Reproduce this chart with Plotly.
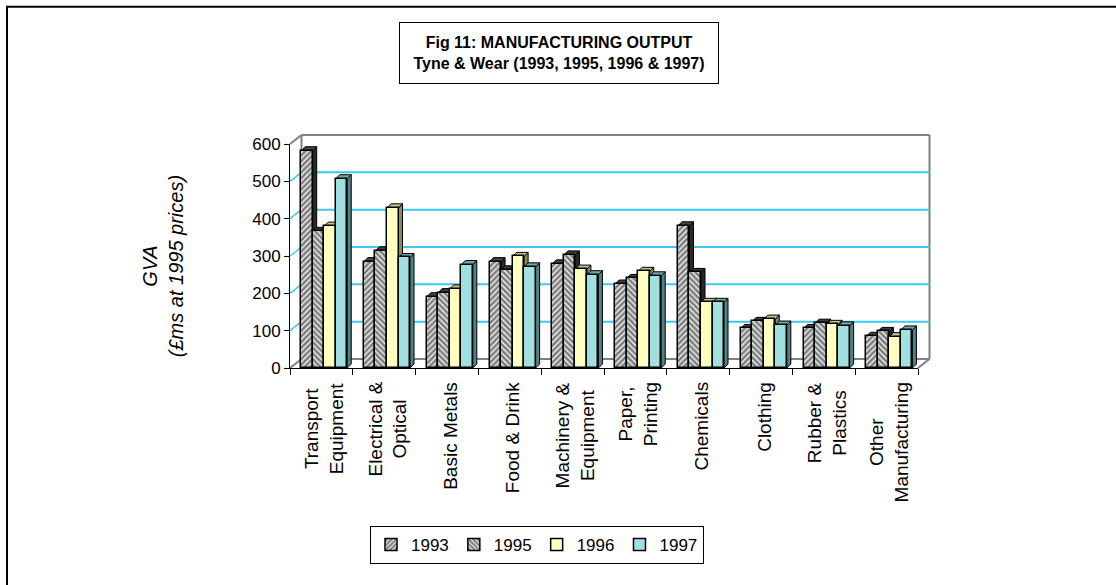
import plotly.graph_objects as go

# ---------------- data ----------------
categories = ["Transport<br>Equipment", "Electrical &<br>Optical", "Basic Metals",
              "Food & Drink", "Machinery &<br>Equipment", "Paper,<br>Printing",
              "Chemicals", "Clothing", "Rubber &<br>Plastics", "Other<br>Manufacturing"]
years = ["1993", "1995", "1996", "1997"]
gva_1993 = [582, 285, 191, 285, 279, 225, 381, 106, 106, 85]
gva_1995 = [366, 314, 202, 263, 303, 240, 256, 125, 120, 98]
gva_1996 = [380, 429, 212, 299, 265, 259, 176, 131, 117, 84]
gva_1997 = [507, 296, 277, 271, 250, 247, 176, 115, 113, 102]
y_ticks = [0, 100, 200, 300, 400, 500, 600]
series = [gva_1993, gva_1995, gva_1996, gva_1997]

# ---------------- styles ----------------
FONT = "Liberation Sans, Arial, sans-serif"
front_colors = ["white", "white", "#ffffc0", "#a0e0e0"]
top_colors = ["#444444", "#3a3a3a", "#c8c088", "#6fa9a9"]
side_colors = ["#2a2a2a", "#262626", "#8a8660", "#4f8282"]
patterns = [dict(shape="/", fgcolor="black", bgcolor="white", size=4, solidity=0.7),
            dict(shape="\\", fgcolor="black", bgcolor="white", size=4, solidity=0.7),
            None, None]

W, H = 1116, 585
L, PW = 290, 628
T, PH = 143.5, 224.5
B = H - T - PH
R = W - L - PW
XMIN, XMAX = -0.5, len(categories) - 0.5
YMIN, YMAX = 0, 600
PPX = PW / (XMAX - XMIN)
PPY = PH / (YMAX - YMIN)

BAR_W = 0.1833
GROUP_OFF = -0.322
DDX = 4 / PPX          # bar depth in data units
DDY = 4 / PPY
WDX = 11.5 / PW        # wall depth in paper units
WDY = 9 / PH


def paper_x(px):
    return (px - L) / PW


def paper_y(py):
    return (T + PH - py) / PH


fig = go.Figure()

for j, (yr, vals) in enumerate(zip(years, series)):
    marker = dict(color=front_colors[j], line=dict(color="black", width=1.5))
    if patterns[j]:
        marker["pattern"] = patterns[j]
    fig.add_trace(go.Bar(
        x=list(range(len(categories))), y=vals, name=yr,
        offset=GROUP_OFF + j * BAR_W, width=BAR_W,
        marker=marker, hoverinfo="y+name"))

shapes = []
GRAY = "#808080"
wall = [((0 + WDX, 0 + WDY), (0 + WDX, 1 + WDY)),
        ((0, 1), (0 + WDX, 1 + WDY)),
        ((0 + WDX, 1 + WDY), (1 + WDX, 1 + WDY)),
        ((1 + WDX, 1 + WDY), (1 + WDX, 0 + WDY)),
        ((0 + WDX, 0 + WDY), (1 + WDX, 0 + WDY)),
        ((0, 0), (0 + WDX, 0 + WDY)),
        ((1, 0), (1 + WDX, 0 + WDY))]
for (x0, y0), (x1, y1) in wall:
    shapes.append(dict(type="line", xref="paper", yref="paper", x0=x0, y0=y0, x1=x1, y1=y1,
                       line=dict(color=GRAY, width=2), layer="below"))
GRID = "#3cc8f0"
for v in y_ticks[1:-1]:
    yv = (v - YMIN) / (YMAX - YMIN)
    shapes.append(dict(type="line", xref="paper", yref="paper", x0=WDX, x1=1 + WDX,
                       y0=yv + WDY, y1=yv + WDY, line=dict(color=GRID, width=2), layer="below"))
    shapes.append(dict(type="line", xref="paper", yref="paper", x0=0, x1=WDX,
                       y0=yv, y1=yv + WDY, line=dict(color=GRID, width=1.5), layer="below"))

# 3D side and top faces of bars
for k in range(len(categories)):
    for j, vals in enumerate(series):
        v = vals[k]
        xl = k + GROUP_OFF + j * BAR_W
        xr = xl + BAR_W
        side = f"M{xr},0 L{xr},{v} L{xr + DDX},{v + DDY} L{xr + DDX},{DDY} Z"
        top = f"M{xl},{v} L{xr},{v} L{xr + DDX},{v + DDY} L{xl + DDX},{v + DDY} Z"
        shapes.append(dict(type="path", xref="x", yref="y", path=side, fillcolor=side_colors[j],
                           line=dict(color="black", width=1), layer="below"))
        shapes.append(dict(type="path", xref="x", yref="y", path=top, fillcolor=top_colors[j],
                           line=dict(color="black", width=1), layer="below"))

# outer frame (left and top edges)
shapes.append(dict(type="line", xref="paper", yref="paper", x0=paper_x(6), x1=paper_x(W + 5),
                   y0=paper_y(6), y1=paper_y(6), line=dict(color="black", width=2)))
shapes.append(dict(type="line", xref="paper", yref="paper", x0=paper_x(7), x1=paper_x(7),
                   y0=paper_y(6), y1=paper_y(H + 5), line=dict(color="black", width=2)))

annotations = []
# category labels
for k, c in enumerate(categories):
    annotations.append(dict(x=k + 0.045, xref="x", y=0, yref="paper", yshift=-12,
                            text=c, textangle=-90, showarrow=False, align="center",
                            xanchor="center", yanchor="top",
                            font=dict(family=FONT, size=19, color="black")))
# y title
annotations.append(dict(x=paper_x(163), y=paper_y(266), xref="paper", yref="paper",
                        text="<i>GVA<br>(£ms at 1995 prices)</i>", textangle=-90,
                        showarrow=False, align="center", xanchor="center", yanchor="middle",
                        font=dict(family=FONT, size=20, color="black")))
# title box
annotations.append(dict(x=paper_x(559), y=paper_y(52), xref="paper", yref="paper",
                        text="<b>Fig 11: MANUFACTURING OUTPUT<br>Tyne & Wear (1993, 1995, 1996 & 1997)</b>",
                        showarrow=False, align="center", xanchor="center", yanchor="middle",
                        width=314, height=56, borderpad=2, bordercolor="black", borderwidth=1,
                        bgcolor="white", font=dict(family=FONT, size=16, color="black")))

fig.update_layout(
    width=W, height=H,
    margin=dict(l=L, r=R, t=T, b=B, pad=0),
    paper_bgcolor="white", plot_bgcolor="rgba(0,0,0,0)",
    barmode="overlay", bargap=0,
    showlegend=True,
    legend=dict(orientation="h", xref="container", yref="container",
                x=537 / W, y=1 - 526 / H, xanchor="center", yanchor="top",
                bordercolor="black", borderwidth=1, bgcolor="white",
                font=dict(family=FONT, size=17, color="black"), itemwidth=30,
                traceorder="normal"),
    xaxis=dict(range=[XMIN, XMAX], showgrid=False, zeroline=False, showline=True,
               linecolor="black", linewidth=1,
               tickvals=[k - 0.5 for k in range(len(categories) + 1)],
               ticks="outside", ticklen=6, tickcolor="black", showticklabels=False,
               fixedrange=True),
    yaxis=dict(range=[YMIN, YMAX], showgrid=False, zeroline=False, showline=True,
               linecolor="black", linewidth=1, tickvals=y_ticks, ticks="outside",
               ticklen=5, tickcolor="black",
               tickfont=dict(family=FONT, size=17, color="black"), fixedrange=True),
    shapes=shapes, annotations=annotations,
    font=dict(family=FONT, color="black"),
)

fig.write_html("out.html")
